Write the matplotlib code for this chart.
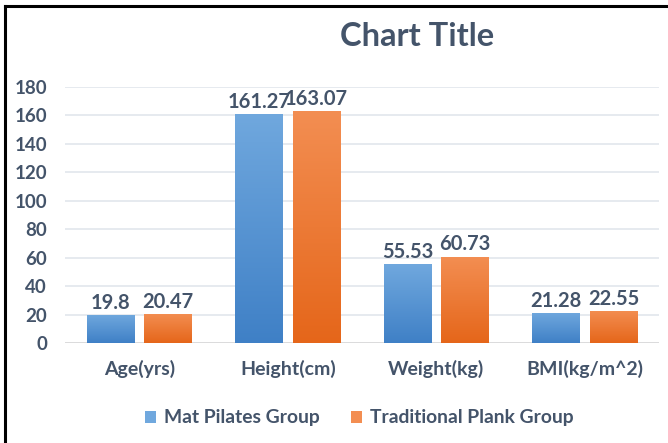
import numpy as np
import matplotlib
matplotlib.use("Agg")
import matplotlib.pyplot as plt
import matplotlib.patches as patches
from matplotlib.colors import LinearSegmentedColormap

categories = ["Age(yrs)", "Height(cm)", "Weight(kg)", "BMI(kg/m^2)"]
mat_pilates = [19.8, 161.27, 55.53, 21.28]
plank = [20.47, 163.07, 60.73, 22.55]
mat_labels = ["19.8", "161.27", "55.53", "21.28"]
plank_labels = ["20.47", "163.07", "60.73", "22.55"]
series_names = ["Mat Pilates Group", "Traditional Plank Group"]
yticks = [0, 20, 40, 60, 80, 100, 120, 140, 160, 180]

TEXT = "#44546a"
BLUE = ("#3f80c6", "#70a8de")
ORANGE = ("#e5661a", "#f38e52")

plt.rcParams["font.family"] = ["Lato", "DejaVu Sans"]
plt.rcParams["font.weight"] = "bold"

W, H = 668, 443
fig = plt.figure(figsize=(W / 100, H / 100), dpi=100)
ax = fig.add_axes([65 / W, (H - 343) / H, (659 - 65) / W, (343 - 87) / H])

x = np.arange(len(categories))
bw = 0.318
off = 0.193


def gradient_bars(xs, vals, cols):
    bars = ax.bar(xs, vals, width=bw, color="none", edgecolor="none", zorder=3)
    cmap = LinearSegmentedColormap.from_list("g", [cols[0], cols[1]])
    grad = np.linspace(0, 1, 256).reshape(-1, 1)
    for b in bars:
        x0, y0 = b.get_x(), b.get_y()
        im = ax.imshow(grad, cmap=cmap, origin="lower", aspect="auto",
                       extent=[x0, x0 + b.get_width(), y0, y0 + b.get_height()],
                       zorder=3)
        im.set_clip_path(b)
    return bars


gradient_bars(x - off, mat_pilates, BLUE)
gradient_bars(x + off, plank, ORANGE)

for xi, v, lab in zip(x - off, mat_pilates, mat_labels):
    ax.text(xi, v + 1.5, lab, ha="center", va="bottom", fontsize=14.5,
            color=TEXT, fontweight="bold", zorder=4)
for xi, v, lab in zip(x + off, plank, plank_labels):
    ax.text(xi, v + 1.5, lab, ha="center", va="bottom", fontsize=14.5,
            color=TEXT, fontweight="bold", zorder=4)

ax.set_xlim(-0.5, len(categories) - 0.5)
ax.set_ylim(0, 180)
ax.set_yticks(yticks)
ax.set_xticks(x)
ax.set_xticklabels(categories)
ax.tick_params(axis="both", length=0, labelsize=13.5, labelcolor=TEXT)
ax.tick_params(axis="x", labelsize=14, pad=12)
ax.tick_params(axis="y", pad=13)
for lab in ax.get_xticklabels() + ax.get_yticklabels():
    lab.set_fontweight("bold")
ax.grid(axis="y", color="#e2e6ec", linewidth=1.2, zorder=0)
ax.set_axisbelow(True)
for s in ax.spines.values():
    s.set_visible(False)
ax.axhline(0, color="#d9d9d9", linewidth=1.2, zorder=2)

fig.text(417 / W, (H - 37) / H, "Chart Title", ha="center", va="center",
         fontsize=23.5, color=TEXT, fontweight="bold")

handles = [patches.Patch(facecolor=BLUE[1], label=series_names[0]),
           patches.Patch(facecolor=ORANGE[1], label=series_names[1])]
leg = fig.legend(handles=handles, loc="center", ncol=2, frameon=False,
                 bbox_to_anchor=(359 / W, (H - 418) / H),
                 handlelength=0.6, handleheight=0.6, handletextpad=0.4,
                 columnspacing=1.6, fontsize=13.9)
for t in leg.get_texts():
    t.set_color(TEXT)
    t.set_fontweight("bold")

# frame lines on the top and left edges
fig.add_artist(plt.Line2D([5 / W, 1], [(H - 6) / H, (H - 6) / H],
                          transform=fig.transFigure, color="black", linewidth=2.2))
fig.add_artist(plt.Line2D([5 / W, 5 / W], [0, (H - 6) / H],
                          transform=fig.transFigure, color="black", linewidth=2.2))

fig.savefig("out.png", dpi=100)
